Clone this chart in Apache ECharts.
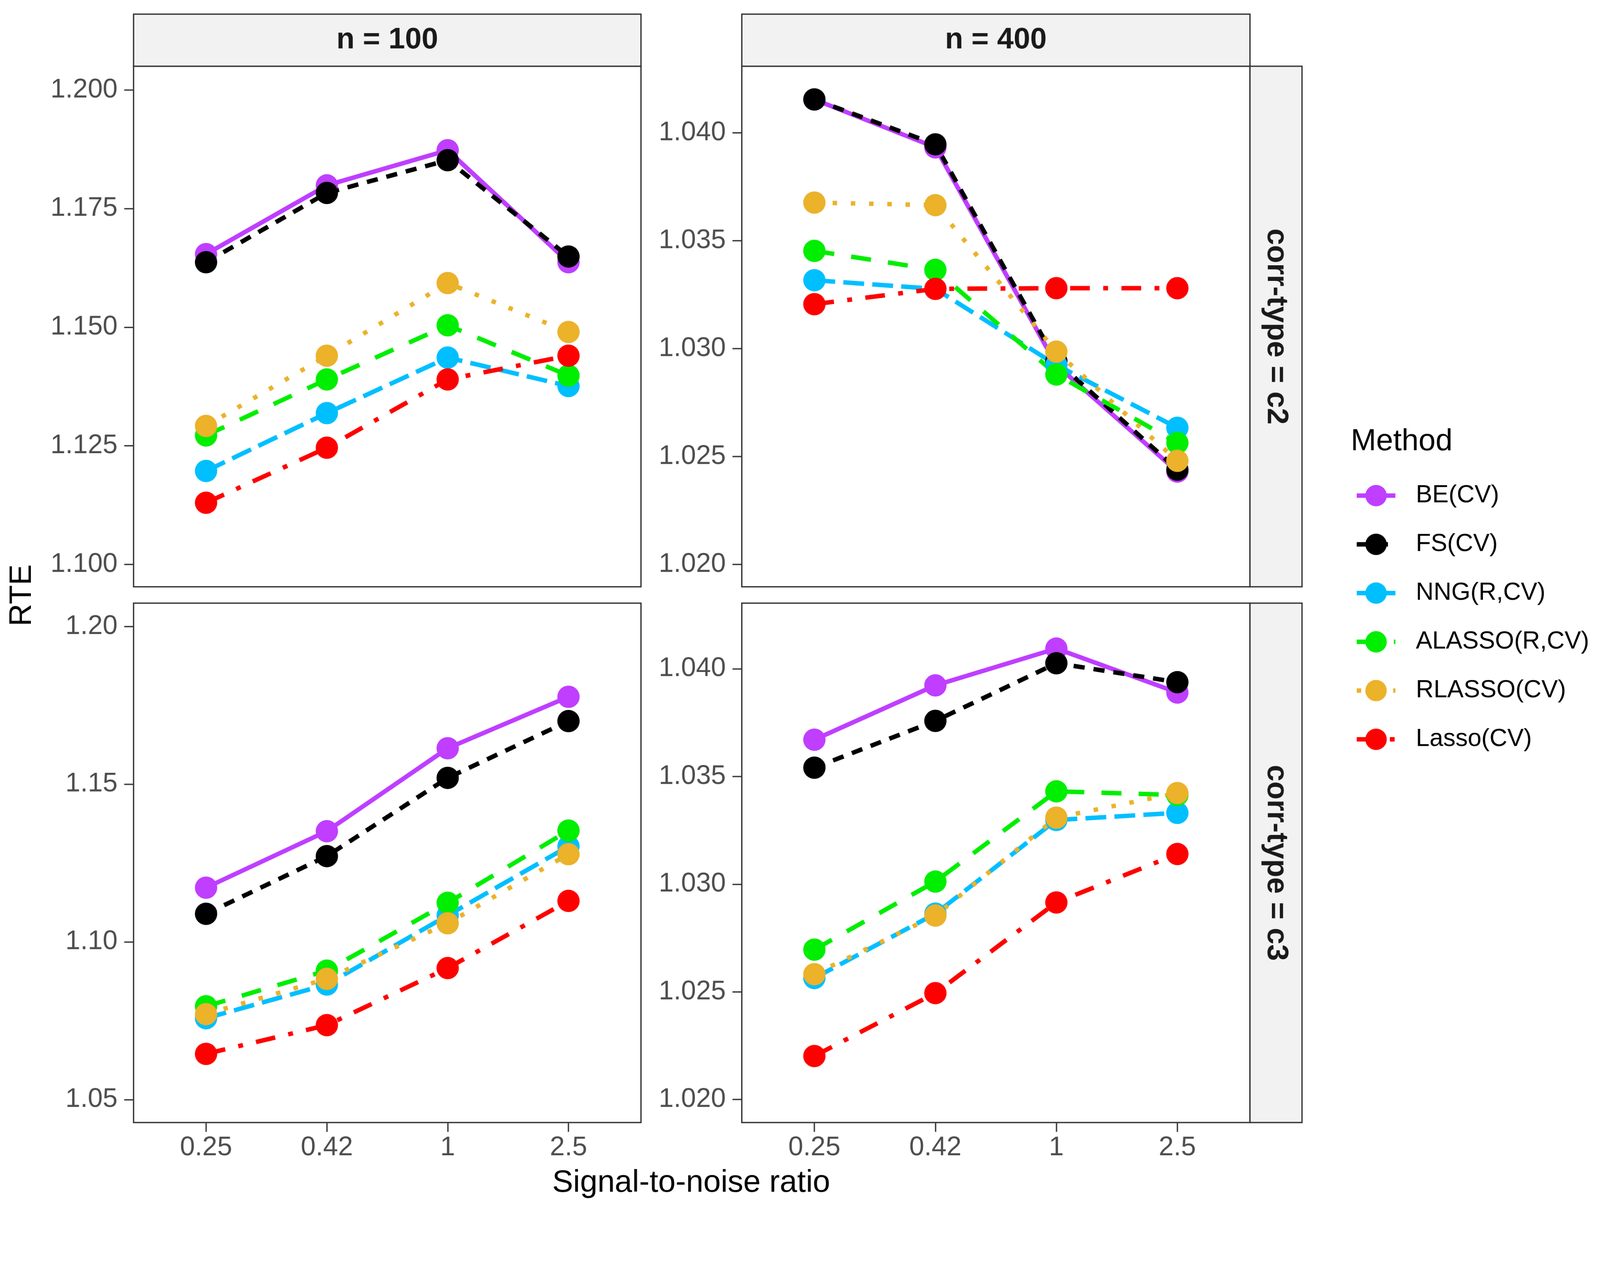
<!DOCTYPE html>
<html>
<head>
<meta charset="utf-8">
<script src="https://cdn.jsdelivr.net/npm/echarts/dist/echarts.min.js"></script>
<style>
  html, body { margin: 0; padding: 0; background: #fff; overflow: hidden; }
  #chart { width: 4301px; height: 3266px; transform-origin: 0 0; }
</style>
</head>
<body>
<div id="chart"></div>
<script>
// fit the 4301 x 3266 layout into whatever viewport we get
var box = document.getElementById('chart');
var fit = Math.min((window.innerWidth || 4301) / 4301, (window.innerHeight || 3266) / 3266);
if (Math.abs(fit - 1) > 0.001) box.style.transform = 'scale(' + fit + ')';

var myChart = echarts.init(box);

// categories
var snr = ['0.25', '0.42', '1', '2.5'];
var xPos = [1, 2, 3, 4];
var methods = ['BE(CV)', 'FS(CV)', 'NNG(R,CV)', 'ALASSO(R,CV)', 'RLASSO(CV)', 'Lasso(CV)'];
var colors = ['#BF3EFF', '#000000', '#00BFFF', '#00EE00', '#EBB22A', '#FF0000'];
var dashes = ['solid', [30, 24], [56, 22], [54, 46], [12, 37], [53, 36, 13, 36]];

// RTE values, rows follow methods
var rte_n100_c2 = [
    [1.1654, 1.1799, 1.1873, 1.1637],
    [1.1637, 1.1783, 1.1852, 1.1649],
    [1.1197, 1.1319, 1.1436, 1.1376],
    [1.1272, 1.1390, 1.1504, 1.1398],
    [1.1292, 1.1440, 1.1593, 1.1490],
    [1.1130, 1.1246, 1.1390, 1.1440]
];
var rte_n400_c2 = [
    [1.04155, 1.03933, 1.02924, 1.02430],
    [1.04155, 1.03947, 1.02942, 1.02439],
    [1.03317, 1.03277, 1.02924, 1.02633],
    [1.03453, 1.03365, 1.02880, 1.02563],
    [1.03677, 1.03665, 1.02986, 1.02480],
    [1.03206, 1.03277, 1.03280, 1.03280]
];
var rte_n100_c3 = [
    [1.1172, 1.1351, 1.1614, 1.1777],
    [1.1089, 1.1272, 1.1520, 1.1700],
    [1.0758, 1.0865, 1.1084, 1.1303],
    [1.0796, 1.0909, 1.1124, 1.1353],
    [1.0771, 1.0883, 1.1059, 1.1278],
    [1.0645, 1.0736, 1.0917, 1.1130]
];
var rte_n400_c3 = [
    [1.03671, 1.03923, 1.04094, 1.03890],
    [1.03541, 1.03758, 1.04026, 1.03938],
    [1.02564, 1.02863, 1.03298, 1.03331],
    [1.02696, 1.03012, 1.03431, 1.03414],
    [1.02582, 1.02854, 1.03309, 1.03423],
    [1.02202, 1.02494, 1.02915, 1.03140]
];

// y ticks per panel
var yTicks_n100_c2 = [1.100, 1.125, 1.150, 1.175, 1.200];
var yTicks_n400_c2 = [1.020, 1.025, 1.030, 1.035, 1.040];
var yTicks_n100_c3 = [1.05, 1.10, 1.15, 1.20];
var yTicks_n400_c3 = [1.020, 1.025, 1.030, 1.035, 1.040];

var FONT = 'Liberation Sans, Arial, sans-serif';
var EDGE = '#333333';
var LW = 12;

var panels = [
    { data: rte_n100_c2, ticks: yTicks_n100_c2, dec: 3, min: 1.0953, max: 1.2050, left: 359, top: 178, width: 1364, height: 1399, bottom: false },
    { data: rte_n400_c2, ticks: yTicks_n400_c2, dec: 3, min: 1.01896, max: 1.04309, left: 1994, top: 178, width: 1366, height: 1399, bottom: false },
    { data: rte_n100_c3, ticks: yTicks_n100_c3, dec: 2, min: 1.04273, max: 1.2074, left: 359, top: 1621, width: 1364, height: 1396, bottom: true },
    { data: rte_n400_c3, ticks: yTicks_n400_c3, dec: 3, min: 1.01893, max: 1.04305, left: 1994, top: 1621, width: 1366, height: 1396, bottom: true }
];

var grids = [], xAxes = [], yAxes = [], lineSeries = [], pointSeries = [];
panels.forEach(function (p, i) {
    grids.push({
        left: p.left, top: p.top, width: p.width, height: p.height,
        show: true, borderColor: EDGE, borderWidth: 3.5, backgroundColor: 'transparent'
    });
    xAxes.push({
        type: 'value', gridIndex: i, min: 0.4, max: 4.6,
        axisLine: { show: false },
        splitLine: { show: false },
        axisTick: { show: p.bottom, customValues: xPos, length: 25, lineStyle: { color: EDGE, width: 3.5 } },
        axisLabel: {
            show: p.bottom, customValues: xPos, margin: 32,
            fontSize: 72, color: '#4D4D4D', fontFamily: FONT,
            formatter: function (v) { return snr[Math.round(v) - 1]; }
        }
    });
    yAxes.push({
        type: 'value', gridIndex: i, min: p.min, max: p.max,
        axisLine: { show: false },
        splitLine: { show: false },
        axisTick: { show: true, customValues: p.ticks, length: 25, lineStyle: { color: EDGE, width: 3.5 } },
        axisLabel: {
            customValues: p.ticks, margin: 43,
            fontSize: 72, color: '#4D4D4D', fontFamily: FONT,
            formatter: (function (d) { return function (v) { return v.toFixed(d); }; })(p.dec)
        }
    });
    methods.forEach(function (m, k) {
        var pts = p.data[k].map(function (v, j) { return [xPos[j], v]; });
        lineSeries.push({
            type: 'line', name: m, xAxisIndex: i, yAxisIndex: i,
            data: pts, symbol: 'circle', showSymbol: false, z: 2,
            lineStyle: { color: colors[k], width: LW, type: dashes[k], cap: 'butt' },
            itemStyle: { color: colors[k] },
            animation: false, silent: true
        });
        pointSeries.push({
            type: 'scatter', name: m, xAxisIndex: i, yAxisIndex: i,
            data: pts, symbol: 'circle', symbolSize: 60, z: 3,
            itemStyle: { color: colors[k], opacity: 1 },
            animation: false, silent: true
        });
    });
});

function strip(x, y, w, h, label, rot) {
    return [{
        type: 'rect', shape: { x: x, y: y, width: w, height: h },
        style: { fill: '#F2F2F2', stroke: EDGE, lineWidth: 3.5 }, z: 10
    }, {
        type: 'text', x: x + w / 2, y: y + h / 2, rotation: rot || 0, z: 11,
        style: {
            text: label, fill: '#1A1A1A', font: 'bold 80px ' + FONT,
            align: 'center', verticalAlign: 'middle'
        }
    }];
}

var graphics = []
    .concat(strip(359, 38, 1364, 140, 'n = 100'))
    .concat(strip(1994, 38, 1366, 140, 'n = 400'))
    .concat(strip(3360, 178, 140, 1399, 'corr-type = c2', -Math.PI / 2))
    .concat(strip(3360, 1621, 140, 1396, 'corr-type = c3', -Math.PI / 2))
    .concat([
        { type: 'text', x: 60, y: 1600, rotation: Math.PI / 2,
          style: { text: 'RTE', fill: '#000', font: '84px ' + FONT, align: 'center', verticalAlign: 'middle' } },
        { type: 'text', x: 1858, y: 3180,
          style: { text: 'Signal-to-noise ratio', fill: '#000', font: '84px ' + FONT, align: 'center', verticalAlign: 'middle' } },
        { type: 'text', x: 3631, y: 1187,
          style: { text: 'Method', fill: '#000', font: '82px ' + FONT, align: 'left', verticalAlign: 'middle' } }
    ]);

option = {
    backgroundColor: '#ffffff',
    animation: false,
    grid: grids,
    xAxis: xAxes,
    yAxis: yAxes,
    legend: {
        data: methods, orient: 'vertical', left: 3641, top: 1296, padding: 0,
        itemWidth: 104, itemHeight: 72, itemGap: 59, selectedMode: false,
        lineStyle: { width: LW, cap: 'butt' },
        textStyle: { fontSize: 66, color: '#000', fontFamily: FONT, lineHeight: 72, padding: [0, 0, 0, 50] }
    },
    graphic: graphics,
    series: lineSeries.concat(pointSeries)
};

myChart.setOption(option);
</script>
</body>
</html>
